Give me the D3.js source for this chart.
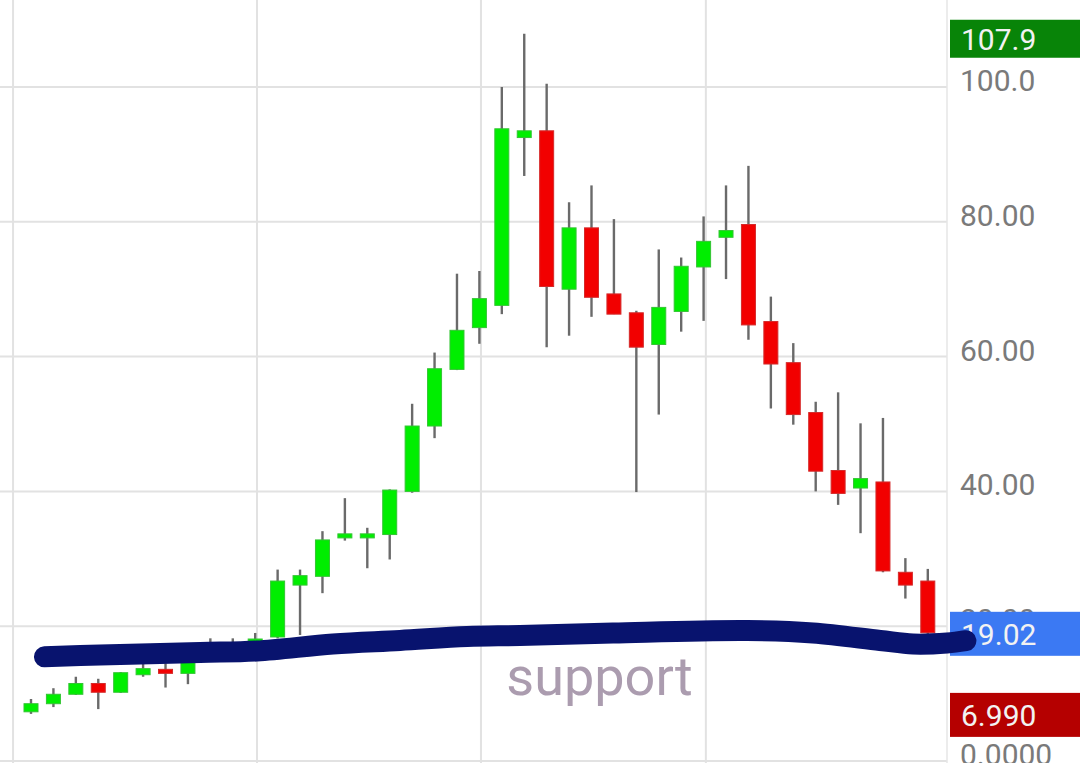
<!DOCTYPE html>
<html>
<head>
<meta charset="utf-8">
<script src="https://cdn.jsdelivr.net/npm/d3@7"></script>
<style>
  html, body { margin: 0; padding: 0; background: #fff; }
  svg { display: block; }
</style>
</head>
<body>
<svg id="chart" width="1080" height="763"></svg>
<script>
// ---- data ----
const opens  = [7.3, 8.5, 9.9, 11.5, 10.2, 12.8, 13.6, 13.0, 15.5, 16.0, 16.8, 18.4, 26.1, 27.4, 33.1, 33.1, 33.6, 40.0, 49.7, 58.1, 64.3, 67.6, 92.5, 93.5, 70.0, 79.1, 69.3, 66.5, 61.8, 66.7, 73.3, 77.7, 79.6, 65.2, 59.1, 51.7, 43.1, 40.5, 41.4, 28.0, 26.7];
const highs  = [9.2, 10.8, 12.5, 12.2, 13.2, 14.5, 14.5, 16.0, 18.2, 18.2, 19.0, 28.4, 28.4, 34.1, 39.0, 34.6, 40.3, 53.0, 60.6, 72.3, 72.7, 100.0, 107.9, 100.5, 82.9, 85.4, 80.4, 66.8, 75.9, 74.7, 80.8, 85.4, 88.3, 68.9, 62.0, 53.3, 54.7, 50.1, 50.9, 30.1, 28.5];
const lows   = [6.99, 8.0, 9.8, 7.7, 10.1, 12.5, 10.9, 11.4, 15.0, 15.5, 16.5, 18.2, 18.7, 24.9, 32.7, 28.6, 29.9, 39.8, 47.9, 58.0, 61.9, 66.3, 86.8, 61.4, 63.1, 65.9, 66.3, 39.9, 51.4, 63.7, 65.3, 71.5, 62.5, 52.3, 49.9, 40.0, 38.0, 33.8, 28.0, 24.1, 18.5];
const closes = [8.5, 9.9, 11.5, 10.2, 13.1, 13.7, 13.0, 14.7, 16.5, 16.8, 18.1, 26.7, 27.5, 32.8, 33.7, 33.7, 40.2, 49.7, 58.2, 63.9, 68.6, 93.8, 93.5, 70.4, 79.1, 68.8, 66.3, 61.4, 67.3, 73.4, 77.1, 78.7, 64.7, 58.9, 51.4, 43.0, 39.7, 41.9, 28.2, 26.1, 19.02];

const yTicks = [0, 20, 40, 60, 80, 100];
const yTickLabels = ["0.0000", "20.00", "40.00", "60.00", "80.00", "100.0"];
const xGridIdx = [-0.8, 10.08, 20.07, 30.1];

const markerValues = [107.9, 19.02, 6.990];
const markerLabels = ["107.9", "19.02", "6.990"];
const markerColors = ["#088408", "#3b79f3", "#b50000"];

// hand-drawn support annotation (in chart units: candle index, price)
const supportIdx = [0.6, 3.08, 7.54, 10.08, 13.47, 16.46, 19.45, 21.81, 25.96, 31.94, 34.88, 37.87, 39.34, 40.86, 41.7];
const supportVal = [15.45, 15.73, 16.1, 16.32, 17.36, 17.88, 18.47, 18.62, 18.99, 19.36, 18.99, 17.88, 17.36, 17.51, 17.85];
const annotationText = "support";

// ---- scales ----
const svg = d3.select("#chart");
const plotRight = 947;
const x = d3.scaleLinear().domain([0, 40]).range([31, 927.8]);
const y = d3.scaleLinear().domain([0, 100]).range([761, 87]);

// grid
const grid = svg.append("g");
grid.selectAll("line.h").data(yTicks).join("line")
  .attr("x1", 0).attr("x2", plotRight)
  .attr("y1", d => y(d)).attr("y2", d => y(d))
  .attr("stroke", "#e2e2e2").attr("stroke-width", 2);
grid.selectAll("line.v").data(xGridIdx).join("line")
  .attr("x1", d => x(d)).attr("x2", d => x(d))
  .attr("y1", 0).attr("y2", 763)
  .attr("stroke", "#e2e2e2").attr("stroke-width", 2);
grid.append("line")
  .attr("x1", plotRight).attr("x2", plotRight).attr("y1", 0).attr("y2", 763)
  .attr("stroke", "#e6e6e6").attr("stroke-width", 1.5);

// candles
const candles = opens.map((o, i) => ({ i, o, h: highs[i], l: lows[i], c: closes[i] }));
const bodyW = 14;
const cg = svg.append("g");
cg.selectAll("line.wick").data(candles).join("line")
  .attr("x1", d => x(d.i)).attr("x2", d => x(d.i))
  .attr("y1", d => y(d.h)).attr("y2", d => y(d.l))
  .attr("stroke", "#6a6a6a").attr("stroke-width", 2.4);
cg.selectAll("rect.body").data(candles).join("rect")
  .attr("x", d => x(d.i) - bodyW / 2)
  .attr("width", bodyW)
  .attr("y", d => y(Math.max(d.o, d.c)))
  .attr("height", d => Math.max(3, Math.abs(y(d.o) - y(d.c))))
  .attr("fill", d => d.c >= d.o ? "#00ee00" : "#f20000")
  .attr("stroke", d => d.c >= d.o ? "#33c433" : "#d42a2a")
  .attr("stroke-width", 1);

// axis labels
const ax = svg.append("g").attr("font-family", "Roboto, sans-serif");
ax.selectAll("text").data(yTicks).join("text")
  .attr("x", 960).attr("y", d => y(d) + 4)
  .attr("font-size", 30).attr("fill", "#7a7a7a")
  .text((d, i) => yTickLabels[i]);

// marker boxes
const mk = svg.append("g").attr("font-family", "Roboto, sans-serif");
markerValues.forEach((v, i) => {
  const cy = y(v) + (i === 0 ? 5 : 1);
  mk.append("rect").attr("x", 950).attr("width", 130)
    .attr("y", cy - (i === 0 ? 19 : 22)).attr("height", i === 0 ? 38 : 44)
    .attr("fill", markerColors[i]);
  mk.append("text").attr("x", 961).attr("y", cy + 11)
    .attr("font-size", 30).attr("fill", "#f2f2f2")
    .text(markerLabels[i]);
});

// annotation
const pts = supportIdx.map((d, i) => [x(d), y(supportVal[i])]);
svg.append("path")
  .attr("d", d3.line().curve(d3.curveCatmullRom)(pts))
  .attr("fill", "none").attr("stroke", "#08136e")
  .attr("stroke-width", 21).attr("stroke-linecap", "round").attr("stroke-linejoin", "round");

svg.append("text")
  .attr("x", x(21.2)).attr("y", 695)
  .attr("font-family", "Roboto, sans-serif").attr("font-size", 54)
  .attr("fill", "#ab9caf")
  .text(annotationText);
</script>
</body>
</html>
